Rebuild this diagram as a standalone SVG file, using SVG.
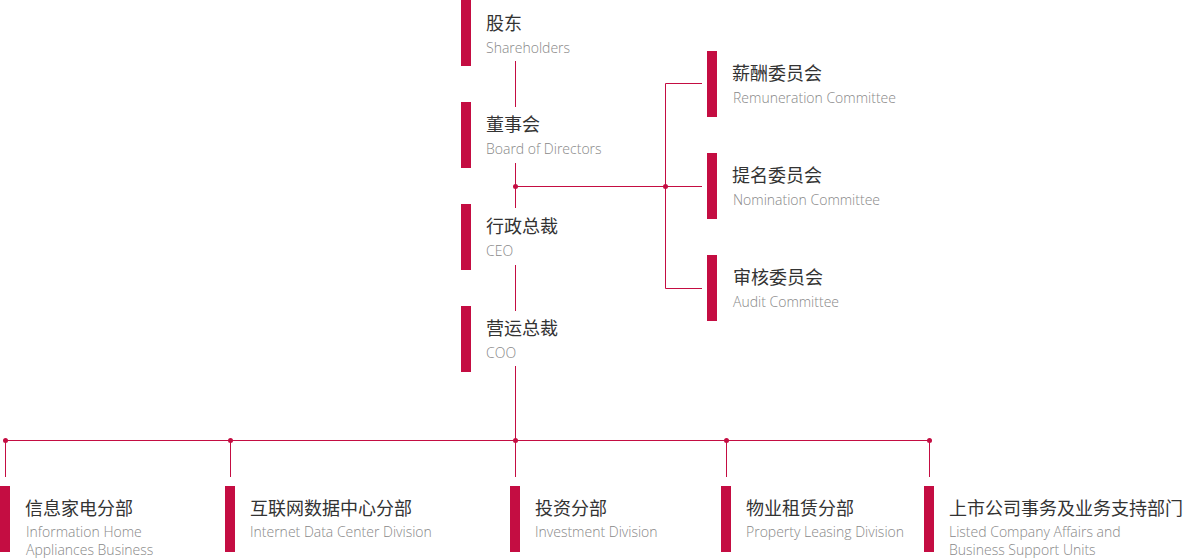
<svg xmlns="http://www.w3.org/2000/svg" width="1185" height="559" viewBox="0 0 1185 559">
<style>
.bar{fill:#c40d42}
.ln{stroke:#c40d42;stroke-width:1;fill:none}
.dot{fill:#c40d42}
.zh{font-family:"Noto Sans CJK SC","Noto Sans",sans-serif;font-size:18px;fill:#333}
.en{font-family:"Open Sans","Liberation Sans",sans-serif;font-weight:300;font-size:14px;fill:#888}
</style>
<rect width="1185" height="559" fill="#fff"/>
<g id="connectors">
<line class="ln" x1="515.5" y1="61" x2="515.5" y2="107"/>
<line class="ln" x1="515.5" y1="163" x2="515.5" y2="208"/>
<line class="ln" x1="515.5" y1="265" x2="515.5" y2="311"/>
<line class="ln" x1="515.5" y1="366" x2="515.5" y2="477"/>
<line class="ln" x1="515" y1="186.5" x2="702" y2="186.5"/>
<polyline class="ln" points="702,83.5 665.5,83.5 665.5,288.5 702,288.5"/>
<line class="ln" x1="5" y1="440.5" x2="930" y2="440.5"/>
<line class="ln" x1="5.5" y1="440" x2="5.5" y2="477"/>
<line class="ln" x1="230.5" y1="440" x2="230.5" y2="477"/>
<line class="ln" x1="726.5" y1="440" x2="726.5" y2="477"/>
<line class="ln" x1="929.5" y1="440" x2="929.5" y2="477"/>
<circle class="dot" cx="515.5" cy="186.5" r="2.5"/>
<circle class="dot" cx="665.5" cy="186.5" r="2.5"/>
<circle class="dot" cx="5.5" cy="440.5" r="2.5"/>
<circle class="dot" cx="230.5" cy="440.5" r="2.5"/>
<circle class="dot" cx="515.5" cy="440.5" r="2.5"/>
<circle class="dot" cx="726.5" cy="440.5" r="2.5"/>
<circle class="dot" cx="929.5" cy="440.5" r="2.5"/>
</g>
<g id="shareholders"><rect class="bar" x="461" y="0" width="10" height="66"/><text class="zh" x="486" y="30">股东</text><text class="en" x="486" y="53">Shareholders</text></g>
<g id="board"><rect class="bar" x="461" y="102" width="10" height="66"/><text class="zh" x="486" y="131">董事会</text><text class="en" x="486" y="154">Board of Directors</text></g>
<g id="ceo"><rect class="bar" x="461" y="204" width="10" height="66"/><text class="zh" x="486" y="233">行政总裁</text><text class="en" x="486" y="256">CEO</text></g>
<g id="coo"><rect class="bar" x="461" y="306" width="10" height="66"/><text class="zh" x="486" y="335">营运总裁</text><text class="en" x="486" y="358">COO</text></g>
<g id="remuneration"><rect class="bar" x="707" y="51" width="10" height="66"/><text class="zh" x="732" y="80">薪酬委员会</text><text class="en" x="733" y="103">Remuneration Committee</text></g>
<g id="nomination"><rect class="bar" x="707" y="153" width="10" height="66"/><text class="zh" x="732" y="182">提名委员会</text><text class="en" x="733" y="205">Nomination Committee</text></g>
<g id="audit"><rect class="bar" x="707" y="255" width="10" height="66"/><text class="zh" x="733" y="284">审核委员会</text><text class="en" x="733" y="307">Audit Committee</text></g>
<g id="info-home"><rect class="bar" x="0" y="486" width="10" height="66"/><text class="zh" x="25" y="515">信息家电分部</text><text class="en" x="26" y="537">Information Home</text><text class="en" x="26" y="555">Appliances Business</text></g>
<g id="idc"><rect class="bar" x="225" y="486" width="10" height="66"/><text class="zh" x="250" y="515">互联网数据中心分部</text><text class="en" x="250" y="537">Internet Data Center Division</text></g>
<g id="investment"><rect class="bar" x="510" y="486" width="10" height="66"/><text class="zh" x="535" y="515">投资分部</text><text class="en" x="535" y="537">Investment Division</text></g>
<g id="property"><rect class="bar" x="721" y="486" width="10" height="66"/><text class="zh" x="746" y="515">物业租赁分部</text><text class="en" x="746" y="537">Property Leasing Division</text></g>
<g id="listed"><rect class="bar" x="924" y="486" width="10" height="66"/><text class="zh" x="949" y="515">上市公司事务及业务支持部门</text><text class="en" x="949" y="537">Listed Company Affairs and</text><text class="en" x="949" y="555">Business Support Units</text></g>
</svg>
